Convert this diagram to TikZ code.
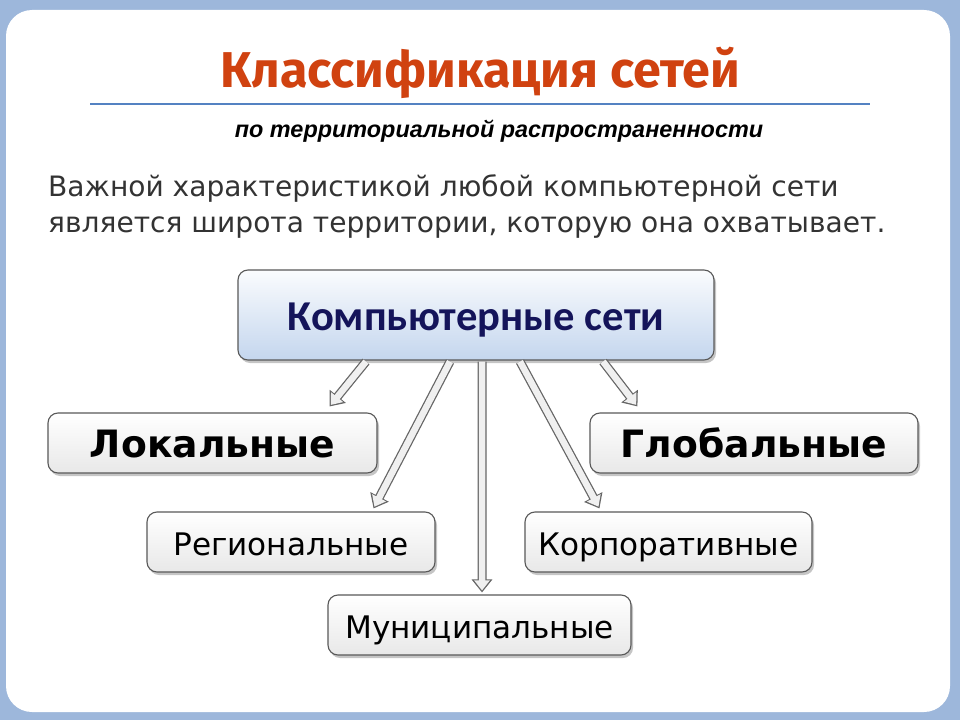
\documentclass[tikz,border=0pt]{standalone}
\usepackage{fontspec}
\setmainfont{DejaVu Sans}
\newfontfamily\titlefont{Fira Sans}
\newfontfamily\arialfont{Liberation Sans}
\newfontfamily\calibrifont{Carlito}
\usetikzlibrary{arrows.meta,shadows}

\definecolor{slideblue}{RGB}{157,183,219}
\definecolor{titlered}{RGB}{208,66,16}
\definecolor{rulebl}{RGB}{84,130,194}
\definecolor{navytext}{RGB}{20,20,90}
\definecolor{mainbot}{RGB}{196,214,238}

\tikzset{
  box/.style={draw=black!65, line width=1.1bp, rounded corners=10bp,
    top color=white, bottom color=black!9, align=center, text depth=0bp,
    drop shadow={shadow xshift=2bp, shadow yshift=-3bp, opacity=0.45}},
  bigbox/.style={box, minimum height=60bp, text height=29.5bp,
    font=\bfseries\fontsize{37.8}{40}\selectfont},
  smallbox/.style={box, minimum height=60bp, text height=27bp,
    font=\fontsize{31.2}{34}\selectfont},
  hollow/.style={line width=6.5bp, draw=black!6,
    -{Triangle[length=10bp,width=15bp]}, shorten >=2bp,
    preaction={draw=black!60, line width=9bp, shorten >=0bp,
      -{Triangle[length=13bp,width=20bp]}}}
}

\begin{document}
\begin{tikzpicture}[x=1bp,y=-1bp]

  \def\W{960}	 %width of slide
  \def\H{720}	 %height of slide

  %BACKGROUND
  \useasboundingbox (0,0) rectangle (\W,\H);
  \fill[slideblue] (0,0) rectangle (\W,\H);
  \fill[white, rounded corners=26bp] (6,10) rectangle (950,712);

  %TITLE
  \node[text=titlered, font=\titlefont\bfseries\fontsize{50.5}{54}\selectfont] (title) at (480,73) {Классификация сетей};
  \draw[rulebl, line width=2bp] (90,104) -- (870,104);
  \node[font=\arialfont\bfseries\itshape\fontsize{23.5}{26}\selectfont] (sub) at (499,131) {по территориальной распространенности};

  %TEXT
  \node[text=black!80, align=left, anchor=north west, inner sep=0pt,
    font=\fontsize{28.2}{37}\selectfont] (txt) at (48,174)
    {Важной характеристикой любой компьютерной сети\\является широта территории, которую она охватывает.};

  %BOXES
  \node[box, top color=white!92!mainbot, bottom color=mainbot, minimum width=476bp, minimum height=90bp,
    text height=31.5bp, text=navytext, font=\calibrifont\bfseries\fontsize{42.7}{46}\selectfont] (main) at (476,315) {Компьютерные сети};
  \node[bigbox, minimum width=329bp] (lok) at (212.5,443) {Локальные};
  \node[bigbox, minimum width=328bp] (glob) at (754,443) {Глобальные};
  \node[smallbox, minimum width=288bp] (reg) at (291,542) {Региональные};
  \node[smallbox, minimum width=287bp] (korp) at (668.5,542) {Корпоративные};
  \node[smallbox, minimum width=303bp] (mun) at (479.5,625) {Муниципальные};

  %ARROWS
  \draw[hollow] ([xshift=-110bp,yshift=-1bp]main.south) -- ([xshift=-48bp,yshift=6bp]lok.north east);
  \draw[hollow] ([xshift=-26bp,yshift=-1bp]main.south) -- ([xshift=-62bp,yshift=3bp]reg.north east);
  \draw[hollow] ([xshift=6bp,yshift=-1bp]main.south) -- ([xshift=2.5bp,yshift=2bp]mun.north);
  \draw[hollow] ([xshift=44bp,yshift=-1bp]main.south) -- ([xshift=75bp,yshift=3bp]korp.north west);
  \draw[hollow] ([xshift=127bp,yshift=-1bp]main.south) -- ([xshift=48bp,yshift=6bp]glob.north west);

\end{tikzpicture}
\end{document}
